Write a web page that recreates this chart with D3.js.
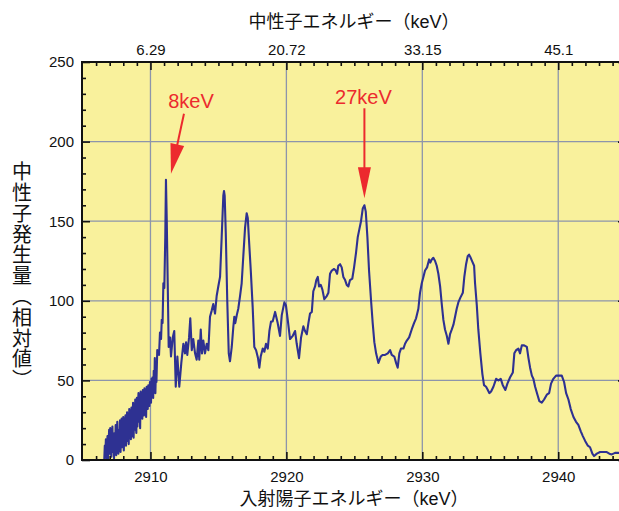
<!DOCTYPE html>
<html><head><meta charset="utf-8">
<script src="https://cdn.jsdelivr.net/npm/d3@7"></script>
<style>body{margin:0;background:#fff;} svg{display:block;}</style>
</head><body>
<svg id="c" width="619" height="511"></svg>
<script>
// ---- data ----
const protonEnergy = [
 2906.60,2906.64,2906.68,2906.72,2906.76,2906.80,2906.84,2906.88,2906.92,2906.96,
 2907.00,2907.04,2907.08,2907.12,2907.16,2907.20,2907.24,2907.28,2907.32,2907.36,
 2907.40,2907.44,2907.48,2907.52,2907.56,2907.60,2907.64,2907.68,2907.72,2907.76,
 2907.80,2907.84,2907.88,2907.92,2907.96,2908.00,2908.04,2908.08,2908.12,2908.16,
 2908.20,2908.24,2908.28,2908.32,2908.36,2908.40,2908.44,2908.48,2908.52,2908.56,
 2908.60,2908.64,2908.68,2908.72,2908.76,2908.80,2908.84,2908.88,2908.92,2908.96,
 2909.00,2909.04,2909.08,2909.12,2909.16,2909.20,2909.24,2909.28,2909.32,2909.36,
 2909.40,2909.44,2909.48,2909.52,2909.56,2909.60,2909.64,2909.68,2909.72,2909.76,
 2909.80,2909.84,2909.88,2909.92,2909.96,2910.00,2910.04,2910.08,2910.12,2910.16,
 2910.20,2910.24,2910.28,2910.32,2910.36,2910.40,2910.44,
 2910.50,2910.63,2910.70,2910.78,2910.83,2910.89,2910.95,2911.02,2911.09,2911.14,
 2911.20,2911.27,2911.34,2911.44,2911.51,2911.64,2911.75,2911.86,2911.98,2912.12,
 2912.27,2912.42,2912.54,2912.62,2912.71,2912.84,2912.93,2913.04,2913.15,2913.28,
 2913.40,2913.52,2913.59,2913.70,2913.79,2913.89,2914.01,2914.14,2914.26,2914.38,
 2914.51,2914.62,2914.75,2914.87,2914.99,2915.12,2915.24,2915.36,2915.41,2915.46,
 2915.54,2915.65,2915.76,2915.85,2915.98,2916.10,2916.17,2916.24,2916.35,2916.46,
 2916.59,2916.71,2916.83,2916.96,2917.08,2917.16,2917.25,2917.38,2917.52,2917.64,
 2917.77,2917.91,2918.01,2918.11,2918.26,2918.38,2918.50,2918.63,2918.75,2918.87,
 2918.99,2919.17,2919.36,2919.53,2919.66,2919.85,2919.97,2920.10,2920.27,2920.47,
 2920.64,2920.76,2920.93,2921.08,2921.25,2921.37,2921.50,2921.62,2921.74,2921.87,
 2921.98,2922.11,2922.20,2922.31,2922.40,2922.53,2922.65,2922.79,2922.97,2923.09,
 2923.21,2923.34,2923.51,2923.63,2923.73,2923.82,2923.95,2924.07,2924.19,2924.32,
 2924.44,2924.56,2924.68,2924.85,2924.98,2925.12,2925.25,2925.37,2925.49,2925.62,
 2925.74,2925.84,2925.96,2926.08,2926.23,2926.35,2926.47,2926.60,2926.77,2926.94,
 2927.09,2927.26,2927.46,2927.63,2927.75,2927.94,2928.07,2928.19,2928.31,2928.43,
 2928.61,2928.73,2928.86,2929.03,2929.22,2929.39,2929.54,2929.71,2929.83,2929.96,
 2930.08,2930.20,2930.35,2930.50,2930.59,2930.70,2930.81,2930.94,2931.06,2931.18,
 2931.31,2931.43,2931.55,2931.67,2931.80,2931.92,2932.04,2932.17,2932.29,2932.41,
 2932.53,2932.65,2932.80,2932.98,2933.09,2933.22,2933.34,2933.44,2933.56,2933.71,
 2933.81,2933.88,2934.01,2934.12,2934.27,2934.42,2934.54,2934.69,2934.82,2934.93,
 2935.06,2935.23,2935.43,2935.60,2935.77,2935.92,2936.11,2936.26,2936.46,2936.66,
 2936.77,2936.90,2937.07,2937.19,2937.32,2937.49,2937.69,2937.81,2937.93,2938.06,
 2938.17,2938.30,2938.47,2938.61,2938.79,2938.96,2939.16,2939.33,2939.47,2939.64,
 2939.84,2940.06,2940.26,2940.43,2940.58,2940.75,2940.92,2941.12,2941.31,2941.48,
 2941.66,2941.81,2941.98,2942.18,2942.34,2942.51,2942.64,2942.84,2943.08,2943.32,
 2943.57,2943.76,2943.94,2944.18,2944.43,2944.70
];
const neutronYield = [
 0,9,3,13,1,6,15,0,11,19,
 4,20,8,2,14,21,5,12,1,17,
 7,22,3,15,24,9,4,19,11,25,
 5,18,26,8,14,27,6,21,10,28,
 9,19,30,12,24,10,32,16,27,13,
 33,15,24,36,14,29,19,38,22,17,
 39,21,35,42,24,31,20,43,27,38,
 26,44,33,28,45,31,40,27,46,35,
 32,47,38,34,49,41,36,51,40,52,
 39,56,44,64,42,55,49,
 69,66,80,76,88,86,111,108,140,176,
 150,111,71,77,65,77,81,46,65,46,
 61,73,67,74,66,77,89,69,76,67,
 63,75,63,82,67,75,67,73,69,90,
 94,98,92,103,109,115,140,166,169,166,
 143,100,67,62,71,84,90,86,91,95,
 103,111,128,146,155,152,138,119,96,71,
 69,64,58,65,70,68,73,70,81,87,
 87,93,86,78,91,99,97,88,76,78,
 81,73,64,77,84,81,79,86,92,93,
 106,109,113,115,109,110,107,101,103,105,
 117,119,120,119,117,122,123,121,115,113,
 110,109,113,114,121,130,140,145,150,158,
 160,156,140,119,100,86,74,67,61,65,
 66,66,67,69,66,65,61,58,67,70,
 70,73,75,77,82,86,89,95,105,111,
 115,119,121,126,124,126,127,125,122,117,
 109,98,88,82,78,73,79,82,85,90,
 95,99,102,105,115,123,128,129,127,124,
 122,111,97,82,67,54,47,46,44,42,
 43,46,51,50,51,47,44,48,52,55,
 67,69,70,67,72,72,71,64,58,53,
 51,46,41,37,36,38,41,42,48,51,
 53,53,53,49,42,38,32,27,24,22,
 18,15,12,9,8,4,2.5,4,5,5,
 5,4,3.5,4.5,4.5,4
];
const xTickValues = [2910, 2920, 2930, 2940];
const topTickLabels = ["6.29", "20.72", "33.15", "45.1"];
const yTickValues = [0, 50, 100, 150, 200, 250];
const peakLabels = ["8keV", "27keV"];
const peakEnergies = [2911.14, 2925.74];
const peakYields = [176, 160];

// ---- chart ----
const svg = d3.select("#c");
const L = 82, R = 626, T = 62, B = 460;
const x = d3.scaleLinear().domain([2905, 2945]).range([82.5, 626.2]);
const y = d3.scaleLinear().domain([0, 250]).range([B, T]);
const NUM = "'Liberation Sans', Arial, Helvetica, sans-serif";
const CJK = "'Liberation Sans', 'Noto Sans CJK JP', sans-serif";

svg.append("rect").attr("x", L).attr("y", T).attr("width", R - L).attr("height", B - T)
  .attr("fill", "#f9f19c");

// grid
const grid = svg.append("g").attr("stroke", "#8d95ab").attr("stroke-width", 1.3);
xTickValues.forEach(v => grid.append("line").attr("x1", x(v)).attr("x2", x(v)).attr("y1", T).attr("y2", B));
yTickValues.filter(v => v > 0 && v < 250).forEach(v => grid.append("line").attr("x1", L).attr("x2", R).attr("y1", y(v)).attr("y2", y(v)));

// data line
const line = d3.line().x(d => x(d[0])).y(d => y(d[1]));
svg.append("path").datum(d3.zip(protonEnergy, neutronYield))
  .attr("d", line).attr("fill", "none").attr("stroke", "#2e3192")
  .attr("stroke-width", 2.1).attr("stroke-linejoin", "round");

// axes
const minorX = d3.range(2906, 2945, 1).filter(v => !xTickValues.includes(v));
const minorY = d3.range(10, 250, 10).filter(v => !yTickValues.includes(v));
function styleAxis(g) {
  g.select(".domain").remove();
  g.selectAll(".tick line").attr("stroke", "#111").attr("stroke-width", 1.6);
  g.selectAll("text").attr("font-family", NUM).attr("font-size", 15).attr("fill", "#111");
}
// bottom
svg.append("g").attr("transform", `translate(0,${B})`)
  .call(d3.axisBottom(x).tickValues(minorX).tickSize(-4).tickFormat(""))
  .call(styleAxis);
svg.append("g").attr("transform", `translate(0,${B})`)
  .call(d3.axisBottom(x).tickValues(xTickValues).tickSize(-8).tickPadding(11).tickFormat(d3.format("d")))
  .call(styleAxis);
// top
svg.append("g").attr("transform", `translate(0,${T})`)
  .call(d3.axisTop(x).tickValues(minorX).tickSize(-4).tickFormat(""))
  .call(styleAxis);
svg.append("g").attr("transform", `translate(0,${T})`)
  .call(d3.axisTop(x).tickValues(xTickValues).tickSize(-8).tickPadding(7)
    .tickFormat((d, i) => topTickLabels[i]))
  .call(styleAxis);
// left
svg.append("g").attr("transform", `translate(${L},0)`)
  .call(d3.axisLeft(y).tickValues(minorY).tickSize(-4).tickFormat(""))
  .call(styleAxis);
svg.append("g").attr("transform", `translate(${L},0)`)
  .call(d3.axisLeft(y).tickValues(yTickValues).tickSize(-8).tickPadding(8).tickFormat(d3.format("d")))
  .call(styleAxis);
// right
svg.append("g").attr("transform", `translate(${R},0)`)
  .call(d3.axisRight(y).tickValues(minorY).tickSize(-4).tickFormat(""))
  .call(styleAxis);
svg.append("g").attr("transform", `translate(${R},0)`)
  .call(d3.axisRight(y).tickValues(yTickValues).tickSize(-8).tickFormat(""))
  .call(styleAxis);

// frame
svg.append("rect").attr("x", L).attr("y", T).attr("width", R - L).attr("height", B - T)
  .attr("fill", "none").attr("stroke", "#111").attr("stroke-width", 2);

// titles
svg.append("text").attr("x", (L + R) / 2).attr("y", 28).attr("text-anchor", "middle")
  .attr("font-family", CJK).attr("font-size", 18).attr("fill", "#111")
  .text("中性子エネルギー（keV）");
svg.append("text").attr("x", (L + R) / 2).attr("y", 505).attr("text-anchor", "middle")
  .attr("font-family", CJK).attr("font-size", 18).attr("fill", "#111")
  .text("入射陽子エネルギー（keV）");
svg.append("text").attr("x", 22).attr("y", 276).attr("text-anchor", "middle")
  .attr("font-family", "'Noto Sans CJK JP', sans-serif").attr("font-size", 20).attr("fill", "#111")
  .attr("letter-spacing", 0.8)
  .style("writing-mode", "vertical-rl")
  .text("中性子発生量（相対値）");

// annotations
const RED = "#ec2a2e";
function arrow(sx, sy, tx, ty, headLen, halfW) {
  const dx = tx - sx, dy = ty - sy, len = Math.hypot(dx, dy);
  const ux = dx / len, uy = dy / len, nx = -uy, ny = ux;
  const bx = tx - headLen * ux, by = ty - headLen * uy;
  svg.append("line").attr("x1", sx).attr("y1", sy).attr("x2", bx + ux).attr("y2", by + uy)
    .attr("stroke", RED).attr("stroke-width", 2);
  svg.append("polygon").attr("fill", RED)
    .attr("points", [[tx, ty], [bx + halfW * nx, by + halfW * ny], [bx - halfW * nx, by - halfW * ny]].map(p => p.join(",")).join(" "));
}
// 8keV
{
  const px = x(peakEnergies[0]), py = y(peakYields[0]);
  arrow(px + 18, py - 66, px + 5, py - 6, 30, 7);
  svg.append("text").attr("x", px + 25).attr("y", py - 72).attr("text-anchor", "middle")
    .attr("font-family", NUM).attr("font-size", 20).attr("fill", RED).text(peakLabels[0]);
}
// 27keV
{
  const px = x(peakEnergies[1]), py = y(peakYields[1]);
  arrow(px, py - 97, px, py - 7, 31, 6.5);
  svg.append("text").attr("x", px - 1).attr("y", py - 101).attr("text-anchor", "middle")
    .attr("font-family", NUM).attr("font-size", 20).attr("fill", RED).text(peakLabels[1]);
}
</script>
</body></html>
